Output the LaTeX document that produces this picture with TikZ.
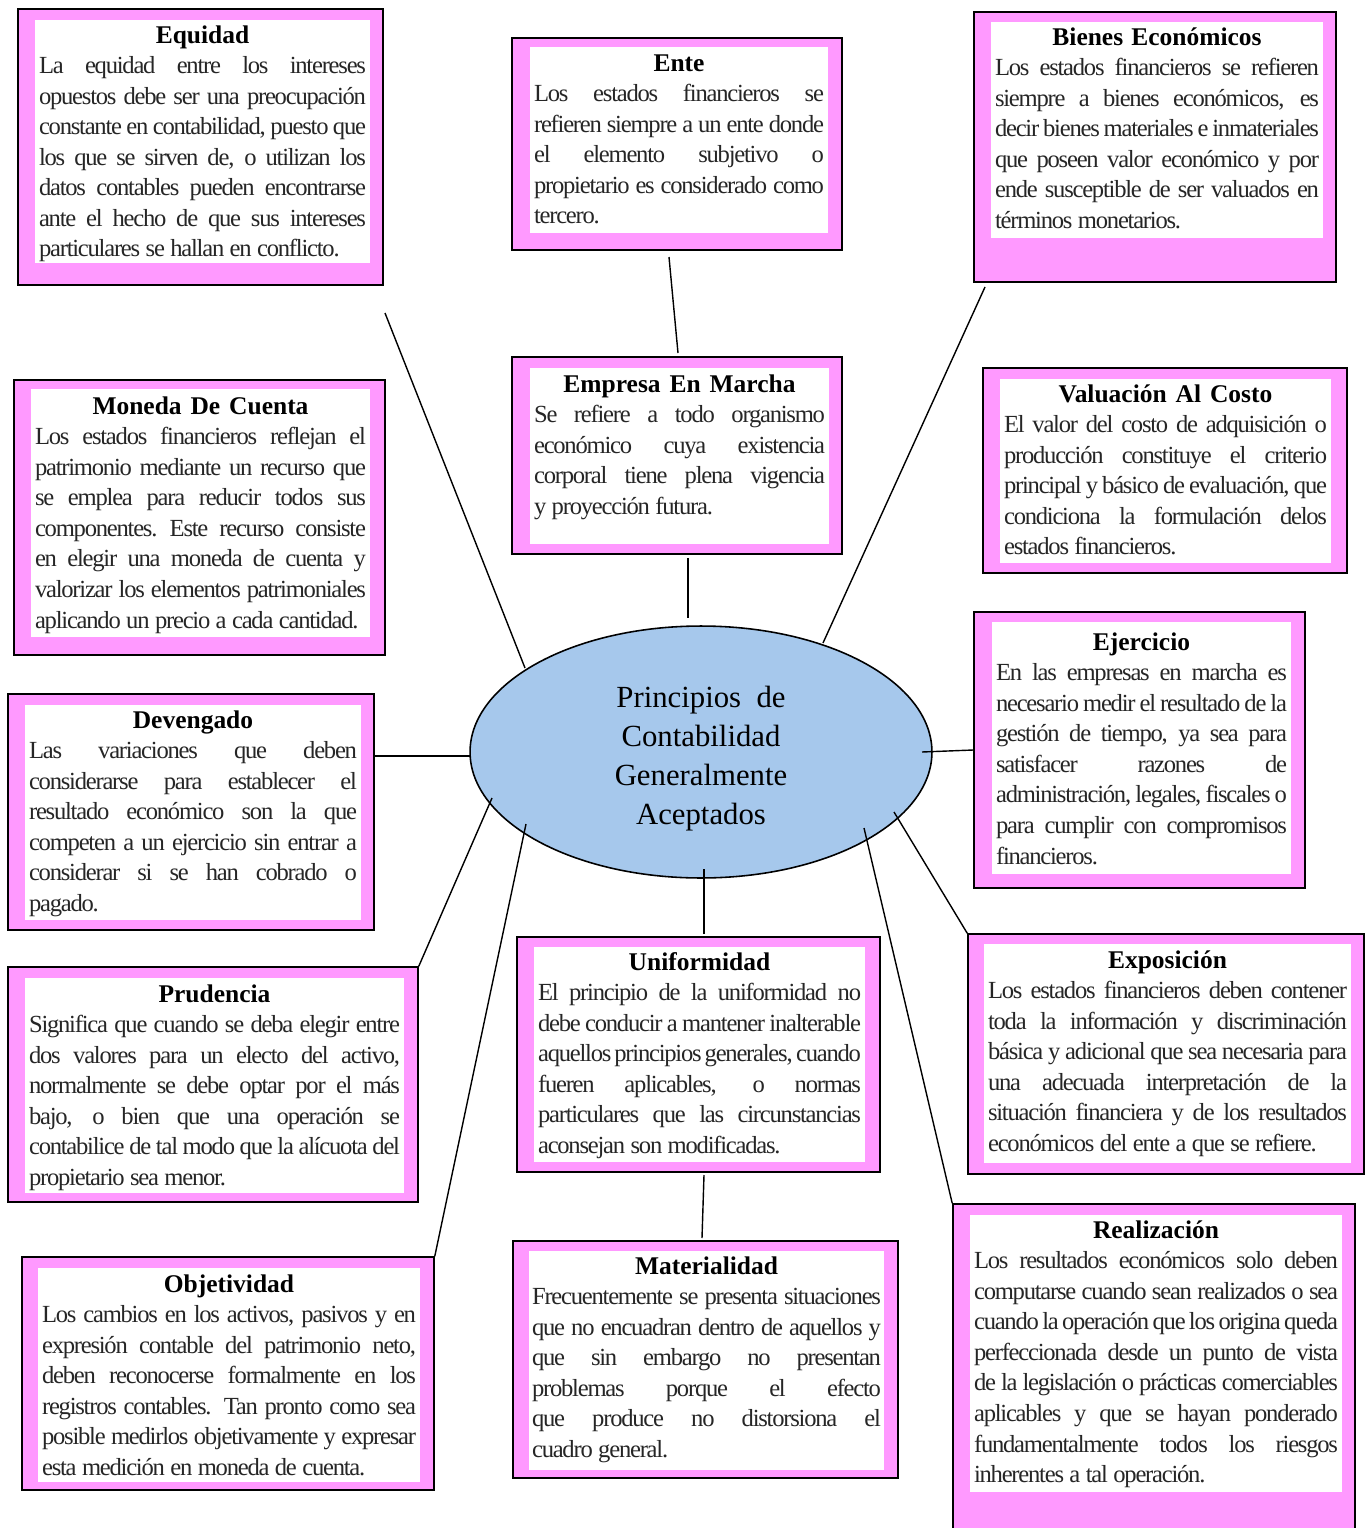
\documentclass[tikz,border=0pt]{standalone}
\usepackage{fontspec}
\setmainfont{Liberation Serif}
\newfontfamily\cuerpo[LetterSpace=-5]{Liberation Serif}
\usetikzlibrary{fit,shapes.geometric}
\definecolor{marco}{HTML}{FF99FF}
\definecolor{celeste}{HTML}{A6C8EC}
% one line of a box: title, justified line, last line
\newcommand{\cabeza}[1]{\hbox to\hsize{\hfil\rmfamily\bfseries\fontsize{14.5}{17.4}\selectfont\color{black}#1\hfil}}
\newcommand{\linea}[1]{\hbox to\hsize{\spaceskip=.22em plus 1fil minus .12em\relax #1}}
\newcommand{\fin}[1]{\hbox to\hsize{\spaceskip=.22em\relax #1\hfil}}
\tikzset{
  marcobox/.style={draw=black, line width=0.9pt, fill=marco, inner sep=0pt},
  hoja/.style={fill=white, inner sep=0pt},
  texto/.style={anchor=base, inner sep=0pt, font=\cuerpo\fontsize{14}{17.4}\selectfont, text=black!85},
  rayo/.style={line width=0.8pt},
}
\begin{document}
\begin{tikzpicture}[x=0.02cm, y=-0.02cm]
  \useasboundingbox (0,0) rectangle (1365,1528);
  \clip (0,0) rectangle (1365,1528);

  % frames
  \node[marcobox, fit={(18,9) (383,285)}] (equidad) {};
  \node[hoja, fit={(35,20) (370,263)}] {};
  \node[marcobox, fit={(512,38) (842,250)}] (ente) {};
  \node[hoja, fit={(530,47) (828,233)}] {};
  \node[marcobox, fit={(974,12) (1336,282)}] (bienes) {};
  \node[hoja, fit={(991,22) (1323,238)}] {};
  \node[marcobox, fit={(512,357) (842,554)}] (empresa) {};
  \node[hoja, fit={(530,368) (829,544)}] {};
  \node[marcobox, fit={(983,368) (1347,573)}] (valuacion) {};
  \node[hoja, fit={(1000,379) (1331,563)}] {};
  \node[marcobox, fit={(14,380) (385,655)}] (moneda) {};
  \node[hoja, fit={(31,389) (370,637)}] {};
  \node[marcobox, fit={(974,612) (1305,888)}] (ejercicio) {};
  \node[hoja, fit={(992,622) (1291,874)}] {};
  \node[marcobox, fit={(8,694) (374,930)}] (devengado) {};
  \node[hoja, fit={(25,705) (361,920)}] {};
  \node[marcobox, fit={(8,967) (418,1202)}] (prudencia) {};
  \node[hoja, fit={(25,978) (404,1193)}] {};
  \node[marcobox, fit={(517,937) (880,1172)}] (uniformidad) {};
  \node[hoja, fit={(534,947) (865,1162)}] {};
  \node[marcobox, fit={(968,934) (1364,1174)}] (exposicion) {};
  \node[hoja, fit={(984,944) (1351,1163)}] {};
  \node[marcobox, fit={(22,1257) (434,1490)}] (objetividad) {};
  \node[hoja, fit={(38,1268) (420,1482)}] {};
  \node[marcobox, fit={(513,1241) (898,1478)}] (materialidad) {};
  \node[hoja, fit={(529,1251) (884,1470)}] {};
  \node[marcobox, fit={(953,1204) (1355,1540)}] (realizacion) {};
  \node[hoja, fit={(970,1215) (1342,1492)}] {};

  % texts
  \node[texto, text width=6.54cm] (equidad-txt) at (202.5,43) {\cabeza{Equidad}
    \linea{La equidad entre los intereses}
    \linea{opuestos debe ser una preocupación}
    \linea{constante en contabilidad, puesto que}
    \linea{los que se sirven de, o utilizan los}
    \linea{datos contables pueden encontrarse}
    \linea{ante el hecho de que sus intereses}
    \fin{particulares se hallan en conflicto.}};
  \node[texto, text width=5.80cm] (ente-txt) at (679,71) {\cabeza{Ente}
    \linea{Los estados financieros se}
    \linea{refieren siempre a un ente donde}
    \linea{el elemento subjetivo o}
    \linea{propietario es considerado como}
    \fin{tercero.}};
  \node[texto, text width=6.48cm] (bienes-txt) at (1157,45) {\cabeza{Bienes Económicos}
    \linea{Los estados financieros se refieren}
    \linea{siempre a bienes económicos, es}
    \linea{decir bienes materiales e inmateriales}
    \linea{que poseen valor económico y por}
    \linea{ende susceptible de ser valuados en}
    \fin{términos monetarios.}};
  \node[texto, text width=5.82cm] (empresa-txt) at (679.5,392) {\cabeza{Empresa\hspace{.35em}En\hspace{.35em}Marcha}
    \linea{Se refiere a todo organismo}
    \linea{económico cuya existencia}
    \linea{corporal tiene plena vigencia}
    \fin{y proyección futura.}};
  \node[texto, text width=6.46cm] (valuacion-txt) at (1165.5,402) {\cabeza{Valuación\hspace{.35em}Al\hspace{.35em}Costo}
    \linea{El valor del costo de adquisición o}
    \linea{producción constituye el criterio}
    \linea{principal y básico de evaluación, que}
    \linea{condiciona la formulación delos}
    \fin{estados financieros.}};
  \node[texto, text width=6.62cm] (moneda-txt) at (200.5,414) {\cabeza{Moneda\hspace{.35em}De\hspace{.35em}Cuenta}
    \linea{Los estados financieros reflejan el}
    \linea{patrimonio mediante un recurso que}
    \linea{se emplea para reducir todos sus}
    \linea{componentes. Este recurso consiste}
    \linea{en elegir una moneda de cuenta y}
    \linea{valorizar los elementos patrimoniales}
    \fin{aplicando un precio a cada cantidad.}};
  \node[texto, text width=5.82cm] (ejercicio-txt) at (1141.5,650) {\cabeza{Ejercicio}
    \linea{En las empresas en marcha es}
    \linea{necesario medir el resultado de la}
    \linea{gestión de tiempo, ya sea para}
    \linea{satisfacer razones de}
    \linea{administración, legales, fiscales o}
    \linea{para cumplir con compromisos}
    \fin{financieros.}};
  \node[texto, text width=6.56cm] (devengado-txt) at (193,728) {\cabeza{Devengado}
    \linea{Las variaciones que deben}
    \linea{considerarse para establecer el}
    \linea{resultado económico son la que}
    \linea{competen a un ejercicio sin entrar a}
    \linea{considerar si se han cobrado o}
    \fin{pagado.}};
  \node[texto, text width=7.42cm] (prudencia-txt) at (214.5,1002) {\cabeza{Prudencia}
    \linea{Significa que cuando se deba elegir entre}
    \linea{dos valores para un electo del activo,}
    \linea{normalmente se debe optar por el más}
    \linea{bajo, o bien que una operación se}
    \linea{contabilice de tal modo que la alícuota del}
    \fin{propietario sea menor.}};
  \node[texto, text width=6.46cm] (uniformidad-txt) at (699.5,970) {\cabeza{Uniformidad}
    \linea{El principio de la uniformidad no}
    \linea{debe conducir a mantener inalterable}
    \linea{aquellos principios generales, cuando}
    \linea{fueren aplicables, o normas}
    \linea{particulares que las circunstancias}
    \fin{aconsejan son modificadas.}};
  \node[texto, text width=7.18cm] (exposicion-txt) at (1167.5,968) {\cabeza{Exposición}
    \linea{Los estados financieros deben contener}
    \linea{toda la información y discriminación}
    \linea{básica y adicional que sea necesaria para}
    \linea{una adecuada interpretación de la}
    \linea{situación financiera y de los resultados}
    \fin{económicos del ente a que se refiere.}};
  \node[texto, text width=7.48cm] (objetividad-txt) at (229,1292) {\cabeza{Objetividad}
    \linea{Los cambios en los activos, pasivos y en}
    \linea{expresión contable del patrimonio neto,}
    \linea{deben reconocerse formalmente en los}
    \linea{registros contables. Tan pronto como sea}
    \linea{posible medirlos objetivamente y expresar}
    \fin{esta medición en moneda de cuenta.}};
  \node[texto, text width=6.98cm] (materialidad-txt) at (706.5,1274) {\cabeza{Materialidad}
    \linea{Frecuentemente se presenta situaciones}
    \linea{que no encuadran dentro de aquellos y}
    \linea{que sin embargo no presentan}
    \linea{problemas porque el efecto}
    \linea{que produce no distorsiona el}
    \fin{cuadro general.}};
  \node[texto, text width=7.28cm] (realizacion-txt) at (1156,1238) {\cabeza{Realización}
    \linea{Los resultados económicos solo deben}
    \linea{computarse cuando sean realizados o sea}
    \linea{cuando la operación que los origina queda}
    \linea{perfeccionada desde un punto de vista}
    \linea{de la legislación o prácticas comerciables}
    \linea{aplicables y que se hayan ponderado}
    \linea{fundamentalmente todos los riesgos}
    \fin{inherentes a tal operación.}};

  % centre
  \node[ellipse, draw=black, line width=0.9pt, fill=celeste, minimum width=9.24cm, minimum height=5.04cm,
    inner sep=0pt] (centro) at (701,752) {};
  \node[align=center, inner sep=0pt, font=\fontsize{17.5}{22.2}\selectfont] (centro-txt) at (701,759)
    {Principios\ \ de\\Contabilidad\\Generalmente\\Aceptados};

  % spokes
  \coordinate (equidad-pie) at (385,313);
  \coordinate (ente-pie) at (669,257);
  \coordinate (empresa-cima) at (678,353);
  \coordinate (empresa-pie) at (688,558);
  \coordinate (bienes-pie) at (985,287);
  \coordinate (devengado-lado) at (374,756);
  \coordinate (uniformidad-cima) at (704,934);
  \coordinate (uniformidad-pie) at (704,1175);
  \coordinate (materialidad-cima) at (702,1238);
  \coordinate (c-equidad) at (525,668);
  \coordinate (c-empresa) at (688,618);
  \coordinate (c-bienes) at (823,643);
  \coordinate (c-ejercicio) at (922,752);
  \coordinate (c-devengado) at (470,756);
  \coordinate (c-prudencia) at (492,798);
  \coordinate (c-objetividad) at (526,824);
  \coordinate (c-uniformidad) at (704,869);
  \coordinate (c-exposicion) at (894,812);
  \coordinate (c-realizacion) at (864,828);

  \draw[rayo] (equidad-pie) -- (c-equidad);
  \draw[rayo] (ente-pie) -- (empresa-cima);
  \draw[rayo] (empresa-pie) -- (c-empresa);
  \draw[rayo] (bienes-pie) -- (c-bienes);
  \draw[rayo] (ejercicio.west) -- (c-ejercicio);
  \draw[rayo] (devengado-lado) -- (c-devengado);
  \draw[rayo] (prudencia.north east) -- (c-prudencia);
  \draw[rayo] (objetividad.north east) -- (c-objetividad);
  \draw[rayo] (uniformidad-cima) -- (c-uniformidad);
  \draw[rayo] (uniformidad-pie) -- (materialidad-cima);
  \draw[rayo] (exposicion.north west) -- (c-exposicion);
  \draw[rayo] (realizacion.north west) -- (c-realizacion);
\end{tikzpicture}
\end{document}
